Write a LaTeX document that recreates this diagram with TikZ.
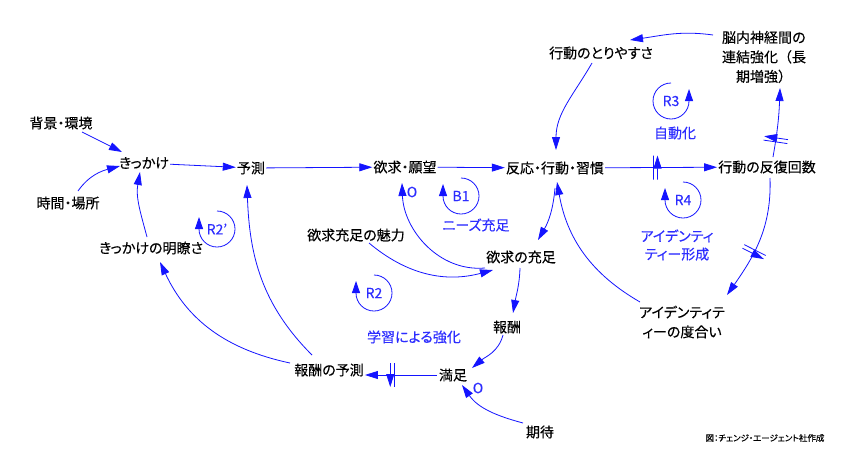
\documentclass[tikz,border=0pt]{standalone}
\usepackage{fontspec}
\setmainfont{Noto Sans CJK JP}[RawFeature=+palt,FakeBold=0.25]
\newfontfamily\jpfull{Noto Sans CJK JP}[FakeBold=0.25]
\newfontfamily\jpcredit{Noto Sans CJK JP}[RawFeature=+palt,FakeBold=0.6]
\usetikzlibrary{arrows.meta,decorations.markings}
\definecolor{lnblue}{RGB}{20,20,255}
\definecolor{txblue}{RGB}{45,45,255}
\begin{document}
\begin{tikzpicture}[x=1pt,y=1pt,
  lbl/.style={inner sep=1pt, font=\fontsize{14}{19.5}\selectfont, text=black},
  blbl/.style={inner sep=1pt, font=\fontsize{14}{18}\selectfont, text=txblue},
  arr/.style={draw=lnblue, line width=0.8pt, -{Triangle[length=13pt,width=8pt]}},
  looparr/.style={draw=lnblue, line width=0.8pt, -{Triangle[length=12pt,width=8pt]}},
  delaymark/.style={postaction={decorate}, decoration={markings, mark=at position #1 with {\draw[lnblue,line width=0.8pt] (-2,-12)--(-2,12) (2,-12)--(2,12);}}}
]
\useasboundingbox (0,0) rectangle (850,-450);
\fill[white] (0,0) rectangle (850,-450);

% nodes
\node[lbl] (bg) at (61,-123) {背景・環境};
\node[lbl] (kik) at (144,-163) {きっかけ};
\node[lbl] (jikan) at (68,-203) {時間・場所};
\node[lbl] (yosoku) at (251,-168) {予測};
\node[lbl] (meiryo) at (151,-248) {きっかけの明瞭さ};
\node[lbl] (yokkyu) at (405,-167) {欲求・願望};
\node[lbl] (hanno) at (555,-168) {反応・行動・習慣};
\node[lbl] (hanpuku) at (767,-167) {行動の反復回数};
\node[lbl] (tori) at (601,-53) {行動のとりやすさ};
\node[lbl,align=center,font=\jpfull\fontsize{14}{19.5}\selectfont] (nou) at (764,-57) {脳内神経間の\\連結強化（長\\期増強）};
\node[lbl] (miryoku) at (356,-235) {欲求充足の魅力};
\node[lbl] (juusoku) at (521,-257) {欲求の充足};
\node[lbl,align=center] (idd) at (682,-322) {アイデンティテ\\ィーの度合い};
\node[lbl] (hoshu) at (507,-327) {報酬};
\node[lbl] (manzoku) at (453,-375) {満足};
\node[lbl] (hyoso) at (329,-370) {報酬の予測};
\node[lbl] (kitai) at (540,-432) {期待};

% loop labels
\node[blbl] (r2p) at (217,-229) {R2’};
\node[blbl] (b1) at (461,-196) {B1};
\node[blbl] (r2) at (374,-293) {R2};
\node[blbl] (r3) at (671,-101) {R3};
\node[blbl] (r4) at (683,-200) {R4};
\node[blbl] (nz) at (476,-225) {ニーズ充足};
\node[blbl] (jd) at (675,-133) {自動化};
\node[blbl,align=center] (idf) at (677,-245) {アイデンティ\\ティー形成};
\node[blbl] (gk) at (414,-337) {学習による強化};
\node[blbl] (o1) at (412,-192) {O};
\node[blbl] (o2) at (478,-388) {O};
\node[font=\jpcredit\fontsize{8.5}{10}\selectfont] (credit) at (765,-438) {図：チェンジ・エージェント社作成};

% loops
\draw[looparr] ([yshift=18pt]r2p.center) arc[start angle=90,end angle=-180,radius=18] -- ++(0,12);
\draw[looparr] ([yshift=18pt]b1.center) arc[start angle=90,end angle=-180,radius=18] -- ++(0,12);
\draw[looparr] ([yshift=18pt]r2.center) arc[start angle=90,end angle=-180,radius=18] -- ++(0,12);
\draw[looparr] ([yshift=18pt]r4.center) arc[start angle=90,end angle=-180,radius=18] -- ++(0,12);
\draw[looparr] ([yshift=18pt]r3.center) arc[start angle=90,end angle=360,radius=18] -- ++(0,12);

% connectors
\draw[arr] ([shift={(21,-9)}]bg.center) -- ([shift={(-22,11)}]kik.center);
\draw[arr] ([shift={(10,12)}]jikan.center) to[out=55,in=195] ([shift={(-24,-3)}]kik.center);
\draw[arr] (kik) -- (yosoku);
\draw[arr] (yosoku) -- (yokkyu);
\draw[arr] (yokkyu) -- (hanno);
\draw[arr,delaymark=0.45] (hanno) -- (hanpuku);
\draw[arr,delaymark=0.25] ([shift={(6,10)}]hanpuku.center) to[out=80,in=-92] ([shift={(16,-31)}]nou.center);
\draw[arr] ([shift={(-51,22)}]nou.center) to[out=172,in=8] ([shift={(29,13)}]tori.center);
\draw[arr] ([shift={(-9,-10)}]tori.center) to[out=240,in=90] ([shift={(1,18)}]hanno.center);
\draw[arr,delaymark=0.6] ([shift={(3,-11)}]hanpuku.center) to[out=-88,in=55] ([shift={(45,27)}]idd.center);
\draw[arr] ([shift={(-42,20)}]idd.center) to[out=150,in=-80] ([shift={(2,-14)}]hanno.center);
\draw[arr] ([shift={(0,-20)}]hanno.center) to[out=-95,in=60] ([shift={(17,17)}]juusoku.center);
\draw[arr] ([shift={(-36,-11)}]juusoku.center) to[out=185,in=-88] ([shift={(-3,-16)}]yokkyu.center);
\draw[arr] ([shift={(13,-8)}]miryoku.center) to[out=-40,in=195] ([shift={(-28,-13)}]juusoku.center);
\draw[arr] ([shift={(-1,-11)}]juusoku.center) to[out=-92,in=80] ([shift={(6,14)}]hoshu.center);
\draw[arr] ([shift={(-4,-8)}]hoshu.center) to[out=-105,in=40] ([shift={(19,7)}]manzoku.center);
\draw[arr] ([shift={(-17,9)}]kitai.center) to[out=165,in=-55] ([shift={(9,-10)}]manzoku.center);
\draw[arr,delaymark=0.62] ([xshift=-1pt]manzoku.west) -- (manzoku.west -| hyoso.east);
\draw[arr] ([shift={(-17,15)}]hyoso.center) to[out=135,in=-88] ([shift={(-4,-17)}]yosoku.center);
\draw[arr] ([shift={(-39,7)}]hyoso.center) to[out=168,in=-65] ([shift={(9,-14)}]meiryo.center);
\draw[arr] ([shift={(-4,11)}]meiryo.center) to[out=105,in=-100] ([shift={(-4,-9)}]kik.center);
\end{tikzpicture}
\end{document}
